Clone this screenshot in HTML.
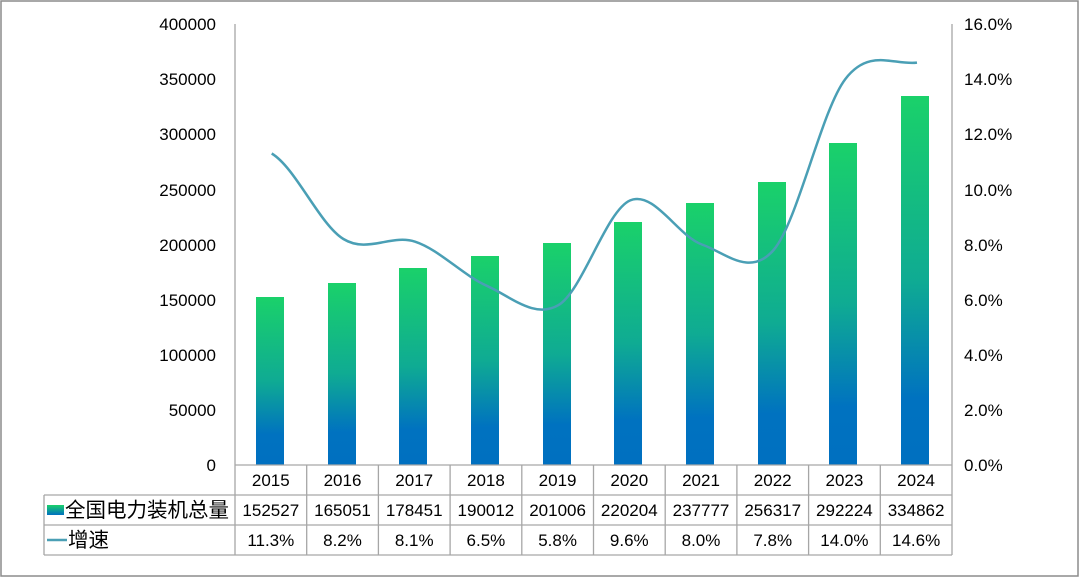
<!DOCTYPE html>
<html><head><meta charset="utf-8"><style>
html,body{margin:0;padding:0;background:#fff}
svg text{font-family:"Liberation Sans","Noto Sans CJK SC",sans-serif;font-size:17px;fill:#000}
svg text.cj{font-size:20.5px}
</style></head><body>
<svg width="1080" height="577" viewBox="0 0 1080 577" xmlns="http://www.w3.org/2000/svg">
<defs>
<linearGradient id="g" x1="0" y1="0" x2="0" y2="1">
<stop offset="0" stop-color="#1ad16a"/>
<stop offset="0.5" stop-color="#0fab93"/>
<stop offset="0.82" stop-color="#0072c0"/>
<stop offset="1" stop-color="#0070c0"/>
</linearGradient>
<linearGradient id="lg" x1="0" y1="0" x2="0" y2="1">
<stop offset="0" stop-color="#1ad16a"/>
<stop offset="1" stop-color="#0070c0"/>
</linearGradient>
</defs>
<rect x="1" y="1" width="1077" height="575" fill="none" stroke="#8c8c8c" stroke-width="1.5"/>
<g fill="url(#g)">
<rect x="256" y="297" width="28" height="168"/>
<rect x="328" y="283" width="28" height="182"/>
<rect x="399" y="268" width="28" height="197"/>
<rect x="471" y="256" width="28" height="209"/>
<rect x="543" y="243" width="28" height="222"/>
<rect x="614" y="222" width="28" height="243"/>
<rect x="686" y="203" width="28" height="262"/>
<rect x="758" y="182" width="28" height="283"/>
<rect x="829" y="143" width="28" height="322"/>
<rect x="901" y="96" width="28" height="369"/>
</g>
<g stroke="#a6a6a6" stroke-width="1.3" fill="none">
<line x1="235" y1="24" x2="235" y2="555"/>
<line x1="952" y1="24" x2="952" y2="555"/>
<line x1="235" y1="465" x2="952" y2="465"/>
<line x1="44" y1="495" x2="952" y2="495"/>
<line x1="44" y1="525" x2="952" y2="525"/>
<line x1="44" y1="555" x2="952" y2="555"/>
<line x1="44" y1="495" x2="44" y2="555"/>
<line x1="306.7" y1="465" x2="306.7" y2="555"/>
<line x1="378.4" y1="465" x2="378.4" y2="555"/>
<line x1="450.1" y1="465" x2="450.1" y2="555"/>
<line x1="521.8" y1="465" x2="521.8" y2="555"/>
<line x1="593.5" y1="465" x2="593.5" y2="555"/>
<line x1="665.2" y1="465" x2="665.2" y2="555"/>
<line x1="736.9" y1="465" x2="736.9" y2="555"/>
<line x1="808.6" y1="465" x2="808.6" y2="555"/>
<line x1="880.3" y1="465" x2="880.3" y2="555"/>
</g>
<path d="M271.7,153.5 C295.6,167.75 319.5,224.3 343.4,239.0 C367.3,253.7 391.2,233.9 415.1,241.7 C439.0,249.5 462.9,275.2 486.8,285.8 C510.7,296.4 534.6,319.3 558.5,305.1 C582.4,290.9 606.3,210.5 630.2,200.4 C654.1,190.3 678.0,236.2 701.9,244.5 C725.8,252.8 749.7,277.6 773.6,250.0 C797.5,222.4 821.4,110.3 845.3,79.1 C869.2,47.9 893.1,65.35 917.0,62.6" fill="none" stroke="#4a9fb5" stroke-width="2.5"/>
<g text-anchor="end">
<text x="216" y="30">400000</text>
<text x="216" y="85">350000</text>
<text x="216" y="140">300000</text>
<text x="216" y="196">250000</text>
<text x="216" y="251">200000</text>
<text x="216" y="306">150000</text>
<text x="216" y="361">100000</text>
<text x="216" y="416">50000</text>
<text x="216" y="471">0</text>
</g>
<g>
<text x="964" y="30">16.0%</text>
<text x="964" y="85">14.0%</text>
<text x="964" y="140">12.0%</text>
<text x="964" y="196">10.0%</text>
<text x="964" y="251">8.0%</text>
<text x="964" y="306">6.0%</text>
<text x="964" y="361">4.0%</text>
<text x="964" y="416">2.0%</text>
<text x="964" y="471">0.0%</text>
</g>
<g text-anchor="middle">
<text x="270.8" y="486">2015</text><text x="342.5" y="486">2016</text><text x="414.2" y="486">2017</text><text x="485.9" y="486">2018</text><text x="557.6" y="486">2019</text><text x="629.3" y="486">2020</text><text x="701" y="486">2021</text><text x="772.7" y="486">2022</text><text x="844.4" y="486">2023</text><text x="916.1" y="486">2024</text>
<text x="270.8" y="516">152527</text><text x="342.5" y="516">165051</text><text x="414.2" y="516">178451</text><text x="485.9" y="516">190012</text><text x="557.6" y="516">201006</text><text x="629.3" y="516">220204</text><text x="701" y="516">237777</text><text x="772.7" y="516">256317</text><text x="844.4" y="516">292224</text><text x="916.1" y="516">334862</text>
<text x="270.8" y="546">11.3%</text><text x="342.5" y="546">8.2%</text><text x="414.2" y="546">8.1%</text><text x="485.9" y="546">6.5%</text><text x="557.6" y="546">5.8%</text><text x="629.3" y="546">9.6%</text><text x="701" y="546">8.0%</text><text x="772.7" y="546">7.8%</text><text x="844.4" y="546">14.0%</text><text x="916.1" y="546">14.6%</text>
</g>
<rect x="47" y="505" width="17" height="10" fill="url(#lg)"/>
<text class="cj" x="65" y="517">全国电力装机总量</text>
<line x1="47" y1="540" x2="67" y2="540" stroke="#4a9fb5" stroke-width="2.5"/>
<text class="cj" x="68" y="547">增速</text>
</svg>
</body></html>
